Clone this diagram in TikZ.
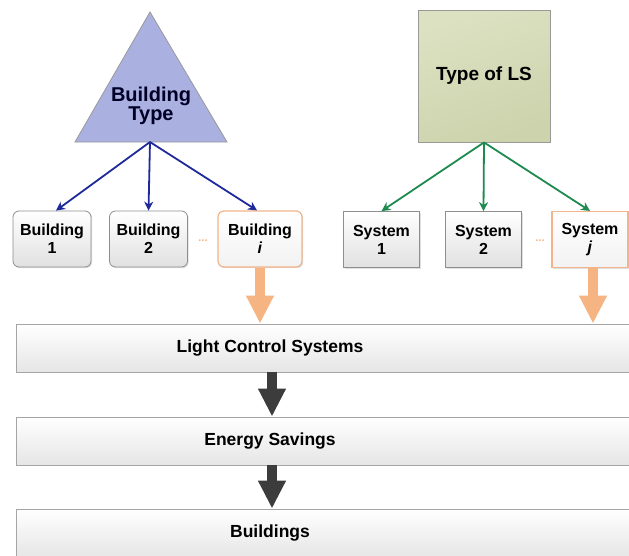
\documentclass[tikz,border=0pt]{standalone}
\usepackage{fontspec}
\setmainfont{Liberation Sans}
\usetikzlibrary{arrows.meta,shadows,calc}
\definecolor{bluearr}{HTML}{1F2A9A}
\definecolor{greenarr}{HTML}{1E8A50}
\definecolor{orng}{HTML}{F5B482}
\definecolor{orngline}{HTML}{F2B48A}
\definecolor{boxline}{HTML}{8E8E8E}
\definecolor{tri}{HTML}{AAB0E0}
\definecolor{lstop}{HTML}{DCE1C2}
\definecolor{lsbot}{HTML}{CDD3AC}
\definecolor{darkarr}{HTML}{3C3C3C}
\tikzset{
  smallbox/.style={draw=boxline, line width=0.8pt, top color=white, bottom color=black!12,
    minimum width=78pt, minimum height=56pt, align=center, font=\bfseries\fontsize{16}{18}\selectfont,
    inner sep=1pt, drop shadow={shadow xshift=1.2pt, shadow yshift=-1.2pt, opacity=0.25}},
  bldbox/.style={smallbox, rounded corners=6pt},
  sysbox/.style={smallbox, minimum width=76pt},
  hibox/.style={draw=orngline, line width=1.2pt, top color=white, bottom color=black!5},
  bigbox/.style={draw=boxline!80, line width=0.8pt, top color=white, bottom color=black!10,
    minimum height=48pt, minimum width=660pt, anchor=west, inner sep=0pt,
    drop shadow={shadow xshift=1.2pt, shadow yshift=-1.2pt, opacity=0.25}},
  bigtext/.style={font=\bfseries\fontsize{17.5}{20}\selectfont},
  thinarr/.style={line width=1.8pt, -{Stealth[length=9pt,width=9pt]}},
  fatarr/.style={line width=10pt, -{Triangle[length=28pt,width=26pt]}},
  dots/.style={text=orng, font=\bfseries\fontsize{11}{11}\selectfont, inner sep=0pt}
}
\begin{document}
\begin{tikzpicture}[x=1pt,y=-1pt]
\useasboundingbox (0,0) rectangle (629,555);
\clip (0,0) rectangle (629,555);
\fill[white] (0,0) rectangle (629,555);
% top shapes
\coordinate (tA) at (150,12);
\coordinate (tL) at (75,142);
\coordinate (tR) at (227,142);
\coordinate (btb) at (150,142);
\draw[fill=tri, draw=black!40, line width=0.8pt] (tA) -- (tL) -- (tR) -- cycle;
\node[font=\bfseries\fontsize{20}{17}\selectfont, align=center, text=black!85!blue] (bt) at (151,106) {Building\\Type};
\node[draw=black!40, line width=0.8pt, top color=lstop, bottom color=lsbot, shading angle=20,
      minimum width=132pt, minimum height=132pt, inner sep=0pt,
      font=\bfseries\fontsize{19}{22}\selectfont] (ls) at (484,76) {Type of LS};
% small boxes
\node[bldbox] (b1) at (52,239) {Building\\1};
\node[bldbox] (b2) at (148.5,239) {Building\\2};
\node[bldbox, hibox, minimum width=84pt] (bi) at (260,239) {Building\\\textit{i}};
\node[sysbox] (s1) at (381.5,239.5) {System\\1};
\node[sysbox] (s2) at (483.5,239.5) {System\\2};
\node[sysbox, hibox] (sj) at (590,239.5) {System\\\textit{j}};
\node[dots] (d1) at (203,241) {...};
\node[dots] (d2) at (540,241) {...};
% thin arrows
\draw[thinarr, bluearr] (btb) -- ($(b1.north)+(4,0)$);
\draw[thinarr, bluearr] (btb) -- (b2.north);
\draw[thinarr, bluearr] (btb) -- ($(bi.north)+(-3,0)$);
\draw[thinarr, greenarr] (ls.south) -- (s1.north);
\draw[thinarr, greenarr] (ls.south) -- (s2.north);
\draw[thinarr, greenarr] (ls.south) -- (sj.north);
% bottom boxes
\node[bigbox] (lcs) at (16,348) {};
\node[bigbox] (es) at (16,441) {};
\node[bigbox] (bd) at (16,533) {};
\node[bigtext] (lcst) at (270,348) {Light Control Systems};
\node[bigtext] (est) at (270,441) {Energy Savings};
\node[bigtext] (bdt) at (270,533) {Buildings};
% fat arrows
\coordinate (ax) at (272,0);
\draw[fatarr, orng] (bi.south) -- (bi.south |- lcs.north);
\draw[fatarr, orng] ($(sj.south)+(3,0)$) -- ($(sj.south |- lcs.north)+(3,0)$);
\draw[fatarr, darkarr] (lcs.south -| ax) -- (es.north -| ax);
\draw[fatarr, darkarr] (es.south -| ax) -- (bd.north -| ax);
\end{tikzpicture}
\end{document}
